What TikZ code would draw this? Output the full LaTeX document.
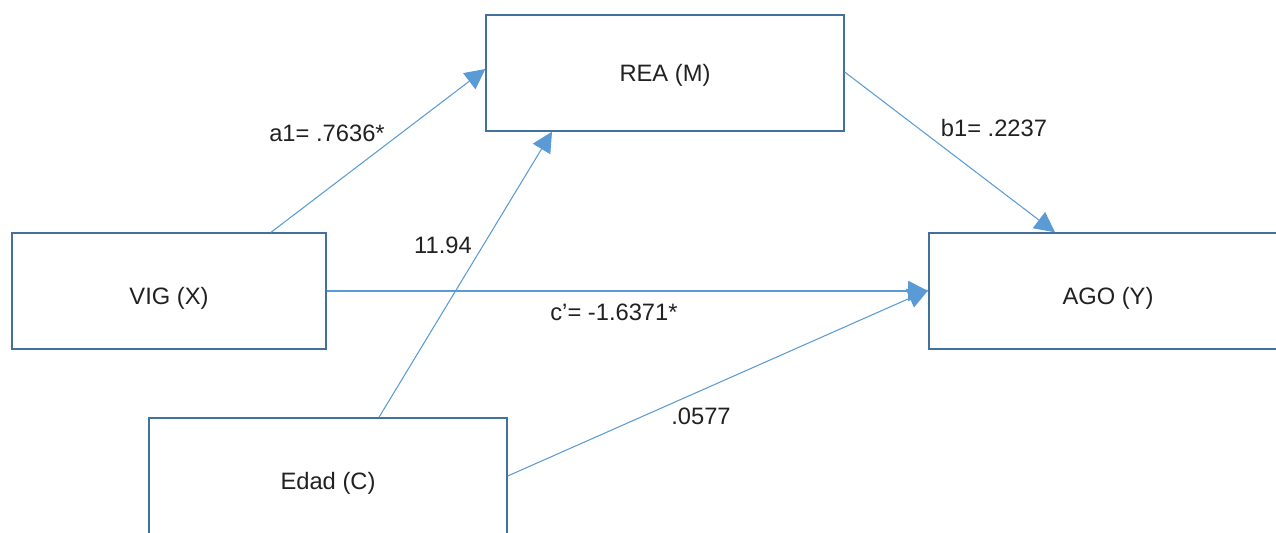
\documentclass[tikz,border=0pt]{standalone}
\usepackage{fontspec}
\setmainfont{Liberation Sans}
\usetikzlibrary{arrows.meta}
\definecolor{boxblue}{RGB}{65,113,156}
\definecolor{arrowblue}{RGB}{91,155,213}
\begin{document}
\begin{tikzpicture}[x=0.02cm,y=-0.02cm,
  box/.style={draw=boxblue, line width=0.8pt, minimum width=7.16cm, minimum height=2.32cm, inner sep=0pt},
  conn/.style={draw=arrowblue, line width=0.6pt, -{Triangle[length=11.5pt,width=11.5pt]}},
  lab/.style={font=\fontsize{13.5}{16}\selectfont, text=black!87, inner sep=0pt}]
\useasboundingbox (0,0) rectangle (1276,532);
\begin{scope}
\clip (0,0) rectangle (1276,532);
\node[box, label={[lab,name=reaT,yshift=-0.05cm]center:REA (M)}] (rea) at (665,73) {};
\node[box, minimum width=6.28cm, label={[lab,name=vigT,yshift=-0.14cm]center:VIG (X)}] (vig) at (169,291) {};
\node[box, label={[lab,name=agoT,yshift=-0.14cm]center:AGO (Y)}] (ago) at (1108,291) {};
\node[box, label={[lab,name=edadT,yshift=-0.14cm]center:Edad (C)}] (edad) at (328,476) {};
\end{scope}
\draw[conn] ([xshift=2.04cm]vig.north) -- ([yshift=0.08cm]rea.west);
\draw[conn] ([xshift=1.02cm]edad.north) -- ([xshift=-2.26cm]rea.south);
\draw[conn] ([yshift=0.02cm]rea.east) -- ([xshift=-1.06cm]ago.north);
\draw[conn] (vig.east) -- (ago.west);
\draw[conn] (edad.east) -- ([yshift=0.02cm]ago.west);
\node[lab] (la) at (327,133) {a1= .7636*};
\node[lab] (lc) at (443,245) {11.94};
\node[lab] (lb) at (994,128) {b1= .2237};
\node[lab] (lcp) at (614,312) {c’= -1.6371*};
\node[lab] (ld) at (701,416) {.0577};
\end{tikzpicture}
\end{document}
